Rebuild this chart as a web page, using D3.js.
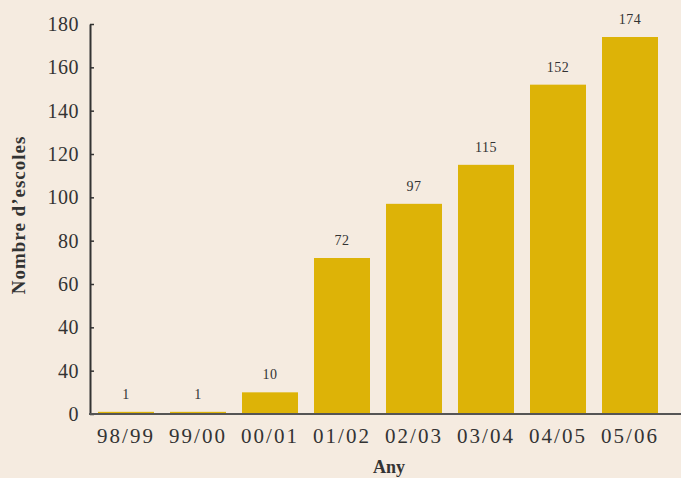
<!DOCTYPE html>
<html>
<head>
<meta charset="utf-8">
<script src="https://cdn.jsdelivr.net/npm/d3@7"></script>
<style>
  html, body { margin: 0; padding: 0; background: #f5ebe0; }
  svg { display: block; }
  text { font-family: "Liberation Serif", "DejaVu Serif", serif; font-variant-numeric: oldstyle-nums; }
</style>
</head>
<body>
<svg id="chart" width="681" height="478"></svg>
<script>
const categories = ["98/99", "99/00", "00/01", "01/02", "02/03", "03/04", "04/05", "05/06"];
const values = [1, 1, 10, 72, 97, 115, 152, 174];
const yTickValues = [0, 20, 40, 60, 80, 100, 120, 140, 160, 180];
const yTickLabels = ["0", "40", "40", "60", "80", "100", "120", "140", "160", "180"];
const yTitle = "Nombre d’escoles";
const xTitle = "Any";

const W = 681, H = 478;
const margin = { left: 90, top: 24, bottom: 64 };
const svg = d3.select("#chart");
svg.append("rect").attr("width", W).attr("height", H).attr("fill", "#f5ebe0");

const x = d3.scaleBand().domain(categories).range([margin.left, 666])
  .paddingInner(0.2222).paddingOuter(0.1111);
const y = d3.scaleLinear().domain([0, 180]).range([414, margin.top]);

// bars
svg.append("g").selectAll("rect").data(values).join("rect")
  .attr("x", (d, i) => x(categories[i]))
  .attr("width", x.bandwidth())
  .attr("y", d => y(d))
  .attr("height", d => y(0) - y(d))
  .attr("fill", "#ddb307");

// value labels
svg.append("g").selectAll("text").data(values).join("text")
  .attr("x", (d, i) => x(categories[i]) + x.bandwidth() / 2)
  .attr("y", d => y(d) - 13)
  .attr("text-anchor", "middle")
  .attr("font-size", 14)
  .attr("letter-spacing", 0.5)
  .attr("fill", "#333")
  .text(d => d);

// y axis
const yAxis = d3.axisLeft(y).tickValues(yTickValues)
  .tickFormat((d, i) => yTickLabels[i]).tickSize(-4).tickSizeOuter(0).tickPadding(11);
const gy = svg.append("g").attr("transform", `translate(${margin.left},0)`).call(yAxis);
gy.select(".domain").attr("stroke", "#333").attr("stroke-width", 2);
gy.selectAll(".tick line").attr("stroke", "#333").attr("stroke-width", 1.5);
gy.selectAll(".tick text").attr("font-size", 20).attr("fill", "#333")
  .attr("letter-spacing", 0.5).attr("font-family", "Liberation Serif, serif");

// x axis
const xAxis = d3.axisBottom(x).tickSize(0).tickPadding(14);
const gx = svg.append("g").attr("transform", `translate(0,${y(0)})`).call(xAxis);
gx.select(".domain").remove();
gx.selectAll(".tick text").attr("font-size", 21).attr("fill", "#333")
  .attr("letter-spacing", 2).attr("font-family", "Liberation Serif, serif");
svg.append("line").attr("x1", margin.left - 1).attr("x2", W)
  .attr("y1", y(0)).attr("y2", y(0)).attr("stroke", "#555").attr("stroke-width", 2);

// titles
svg.append("text").attr("transform", `translate(25,215) rotate(-90)`)
  .attr("text-anchor", "middle").attr("font-size", 19).attr("font-weight", "bold")
  .attr("letter-spacing", 1).attr("fill", "#333").text(yTitle);
svg.append("text").attr("x", 389).attr("y", 473)
  .attr("text-anchor", "middle").attr("font-size", 18).attr("font-weight", "bold")
  .attr("fill", "#333").text(xTitle);
</script>
</body>
</html>
